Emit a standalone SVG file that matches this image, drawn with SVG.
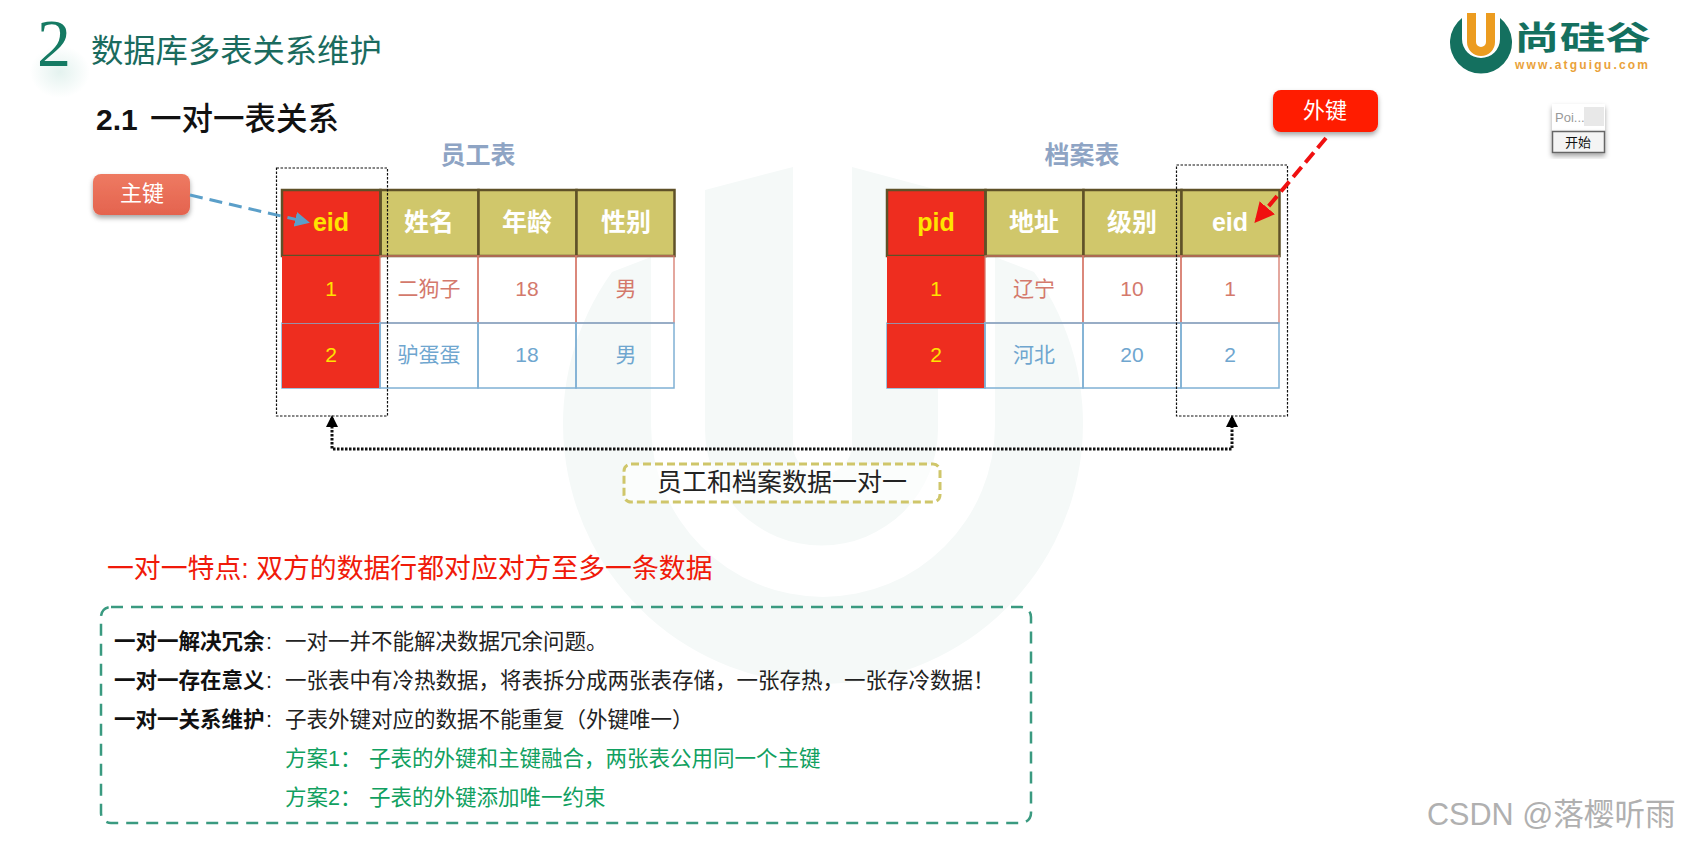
<svg xmlns="http://www.w3.org/2000/svg" width="1681" height="844" viewBox="0 0 1681 844">
<style>
text{font-family:"Liberation Sans","Noto Sans CJK SC",sans-serif}
.cjk{font-family:"Noto Sans CJK SC",sans-serif}
.c{text-anchor:middle}
.hd{fill:#d0c76b;stroke:#5f5128;stroke-width:2.5}
.pk{fill:#ee2d1f}
.r1{fill:none;stroke:#d6786a;stroke-width:1.3}
.r2{fill:none;stroke:#7fb0d4;stroke-width:1.5}
.th{font-size:25px;font-weight:bold;fill:#fff}
.thk{font-size:25px;font-weight:bold;fill:#ffe400}
.pkt{font-size:21px;fill:#ffe400}
.t1{font-size:21px;fill:#d4796c}
.t2{font-size:21px;fill:#6fa6cf}
.cap{font-size:25px;font-weight:bold;fill:#8ea4c4}
.dot{fill:none;stroke:#111;stroke-width:1.2;stroke-dasharray:2.5 1.5}
.b{font-size:21.5px;font-weight:bold;fill:#111}
.n{font-size:21.5px;fill:#222}
.g{font-size:21.5px;fill:#10a060}
</style>
<defs>
<filter id="sh" x="-20%" y="-20%" width="140%" height="150%"><feDropShadow dx="0" dy="3" stdDeviation="2.5" flood-color="#000" flood-opacity=".35"/></filter>
<linearGradient id="pkg" x1="0" y1="0" x2="0" y2="1"><stop offset="0" stop-color="#ee7a62"/><stop offset="1" stop-color="#e4634e"/></linearGradient>
<radialGradient id="glow"><stop offset="0" stop-color="#e4f2ef"/><stop offset="1" stop-color="#fff"/></radialGradient>
<marker id="ab" markerWidth="5" markerHeight="5" refX="4" refY="2.5" orient="auto"><path d="M0 0L5 2.5L0 5z" fill="#5b9fc9"/></marker>
<marker id="ar" markerWidth="5" markerHeight="5" refX="4" refY="2.5" orient="auto"><path d="M0 0L5 2.5L0 5z" fill="#f01010"/></marker>
<marker id="ak" markerWidth="4" markerHeight="4" refX="3" refY="2" orient="auto-start-reverse"><path d="M0 0L4 2L0 4z" fill="#000"/></marker>
</defs>
<rect width="1681" height="844" fill="#fff"/>
<g id="watermark" fill="#f5f9f8">
<path d="M651 257L612 272A260 260 0 1 0 1034 272L995 257V425A172 172 0 0 1 651 425Z"/>
<path d="M705 190L793 167V445A29.500 29.500 0 0 0 852 445V167L938 190V429A116.500 116.500 0 0 1 705 429Z"/>
</g>
<g id="header">
<ellipse cx="60" cy="72" rx="30" ry="26" fill="url(#glow)"/>
<text x="37" y="66" font-size="68" style="font-family:'Liberation Serif',serif" fill="#157a63">2</text>
<text x="91" y="62" font-size="32.300" class="cjk" fill="#1a6b5e">数据库多表关系维护</text>
<text x="96" y="130" font-size="30" font-weight="bold" fill="#111">2.1<tspan x="150" font-size="31.500" font-weight="500" class="cjk">一对一表关系</tspan></text>
</g>
<g id="logo">
<path d="M1462 18A31 31 0 1 0 1500 18V39A19 19 0 0 1 1462 39Z" fill="#14705f"/>
<path d="M1467 13H1476V42A5 5 0 0 0 1486 42V13H1495V42A14 14 0 0 1 1467 42Z" fill="#ec9c20"/>
<text x="1514" y="49" font-size="32" font-weight="bold" class="cjk" fill="#14705f" textLength="137" lengthAdjust="spacingAndGlyphs">尚硅谷</text>
<text x="1515" y="69" font-size="12" font-weight="bold" fill="#eaa23a" textLength="133">www.atguigu.com</text>
</g>
<g id="table-employee">
<rect class="pk" x="282" y="190" width="98" height="198"/>
<rect class="hd" x="380.500" y="190" width="98" height="66"/><rect class="hd" x="478.500" y="190" width="98" height="66"/><rect class="hd" x="576.500" y="190" width="98" height="66"/>
<rect x="282" y="190" width="98.500" height="66" fill="none" stroke="#5f5128" stroke-width="2.500"/>
<rect class="r1" x="380" y="256" width="98" height="67"/><rect class="r1" x="478" y="256" width="98" height="67"/><rect class="r1" x="576" y="256" width="98" height="67"/>
<rect class="r2" x="282" y="323" width="98" height="65"/><rect class="r2" x="380" y="323" width="98" height="65"/><rect class="r2" x="478" y="323" width="98" height="65"/><rect class="r2" x="576" y="323" width="98" height="65"/>
<rect class="pk" x="282" y="256" width="97" height="67"/><rect class="pk" x="282" y="324" width="97" height="64"/>
<text class="thk c" x="331" y="231">eid</text><text class="th c cjk" x="429" y="231">姓名</text><text class="th c cjk" x="527" y="231">年龄</text><text class="th c cjk" x="626" y="231">性别</text>
<text class="pkt c" x="331" y="296">1</text><text class="t1 c" x="429" y="296">二狗子</text><text class="t1 c" x="527" y="296">18</text><text class="t1 c" x="626" y="296">男</text>
<text class="pkt c" x="331" y="362">2</text><text class="t2 c" x="429" y="362">驴蛋蛋</text><text class="t2 c" x="527" y="362">18</text><text class="t2 c" x="626" y="362">男</text>
<text class="cap c" x="478" y="164">员工表</text>
</g>
<g id="table-archive">
<rect class="pk" x="887" y="190" width="98" height="198"/>
<rect class="hd" x="985.500" y="190" width="98" height="66"/><rect class="hd" x="1083.500" y="190" width="98" height="66"/><rect class="hd" x="1181.500" y="190" width="98" height="66"/>
<rect x="887" y="190" width="98.500" height="66" fill="none" stroke="#5f5128" stroke-width="2.500"/>
<rect class="r1" x="985" y="256" width="98" height="67"/><rect class="r1" x="1083" y="256" width="98" height="67"/><rect class="r1" x="1181" y="256" width="98" height="67"/>
<rect class="r2" x="887" y="323" width="98" height="65"/><rect class="r2" x="985" y="323" width="98" height="65"/><rect class="r2" x="1083" y="323" width="98" height="65"/><rect class="r2" x="1181" y="323" width="98" height="65"/>
<rect class="pk" x="887" y="256" width="97" height="67"/><rect class="pk" x="887" y="324" width="97" height="64"/>
<text class="thk c" x="936" y="231">pid</text><text class="th c cjk" x="1034" y="231">地址</text><text class="th c cjk" x="1132" y="231">级别</text><text class="th c" x="1230" y="231">eid</text>
<text class="pkt c" x="936" y="296">1</text><text class="t1 c" x="1034" y="296">辽宁</text><text class="t1 c" x="1132" y="296">10</text><text class="t1 c" x="1230" y="296">1</text>
<text class="pkt c" x="936" y="362">2</text><text class="t2 c" x="1034" y="362">河北</text><text class="t2 c" x="1132" y="362">20</text><text class="t2 c" x="1230" y="362">2</text>
<text class="cap c" x="1082" y="164">档案表</text>
</g>
<g id="fk-box"><rect class="dot" x="276.500" y="168" width="111" height="248"/></g>
<g id="pk-box"><rect class="dot" x="1176.500" y="165" width="111" height="251"/></g>
<g id="btn-pk"><rect x="93" y="174" width="97" height="41" rx="8" fill="url(#pkg)" filter="url(#sh)"/><text class="c" x="142" y="201" font-size="22" fill="#fff">主键</text></g>
<g id="btn-fk"><rect x="1273" y="90" width="105" height="42" rx="8" fill="#ff1a00" filter="url(#sh)"/><text class="c" x="1325" y="118" font-size="22" fill="#fff">外键</text></g>
<g id="connectors" fill="none">
<path d="M190 195L307 222" stroke="#5b9fc9" stroke-width="3" stroke-dasharray="13 7" marker-end="url(#ab)"/>
<path d="M1326 138L1257 220" stroke="#f01010" stroke-width="4" stroke-dasharray="13 6" marker-end="url(#ar)"/>
<path d="M332 418V449H1232V418" stroke="#111" stroke-width="3" stroke-dasharray="2.500 1.500" marker-start="url(#ak)" marker-end="url(#ak)"/>
</g>
<g id="note"><rect x="624" y="464" width="316" height="38" rx="7" fill="#fff" fill-opacity=".6" stroke="#cfc66a" stroke-width="3" stroke-dasharray="8 4"/><text class="c" x="782" y="491" font-size="25" fill="#222">员工和档案数据一对一</text></g>
<g id="heading"><text x="107" y="578" font-size="26.850" fill="#f01a0a">一对一特点: 双方的数据行都对应对方至多一条数据</text></g>
<g id="details">
<rect x="101" y="607" width="930" height="216" rx="10" fill="none" stroke="#3a9a80" stroke-width="2.500" stroke-dasharray="12 8"/>
<text class="b" x="114" y="649">一对一解决冗余</text><text class="n" x="266" y="649">:</text><text class="n" x="285" y="649">一对一并不能解决数据冗余问题。</text>
<text class="b" x="114" y="688">一对一存在意义</text><text class="n" x="266" y="688">:</text><text class="n" x="285" y="688">一张表中有冷热数据，将表拆分成两张表存储，一张存热，一张存冷数据！</text>
<text class="b" x="114" y="727">一对一关系维护</text><text class="n" x="266" y="727">:</text><text class="n" x="285" y="727">子表外键对应的数据不能重复（外键唯一）</text>
<text class="g" x="285" y="766">方案1：</text><text class="g" x="369" y="766">子表的外键和主键融合，两张表公用同一个主键</text>
<text class="g" x="285" y="805">方案2：</text><text class="g" x="369" y="805">子表的外键添加唯一约束</text>
</g>
<g id="widget">
<rect x="1552" y="104" width="53" height="27" fill="#fff" filter="url(#sh)"/>
<text x="1555" y="122" font-size="13" fill="#999">Poi...</text>
<rect x="1584" y="107" width="20" height="19" fill="#e8e8e8"/>
<rect x="1552.500" y="131.500" width="52" height="21" fill="#f4f4f4" stroke="#666" stroke-width="1.500" filter="url(#sh)"/>
<text class="c" x="1578" y="147" font-size="13" fill="#111">开始</text>
</g>
<text x="1427" y="825" font-size="30.600" fill="#b0b0b0">CSDN @落樱听雨</text>
</svg>
